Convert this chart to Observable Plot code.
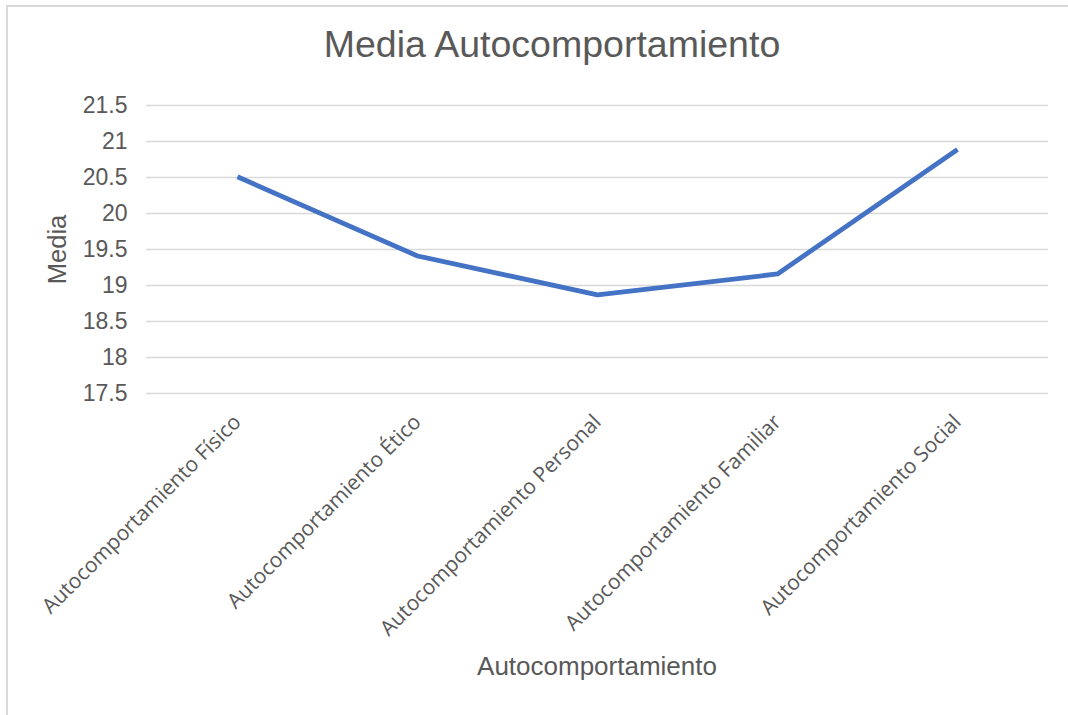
<!DOCTYPE html>
<html>
<head>
<meta charset="utf-8">
<script src="https://cdn.jsdelivr.net/npm/d3@7"></script>
<script src="https://cdn.jsdelivr.net/npm/@observablehq/plot@0.6"></script>
<style>
  html, body { margin: 0; padding: 0; background: #fff; }
  #wrap { position: relative; width: 1068px; height: 715px; overflow: hidden; font-family: "Liberation Sans", Arial, sans-serif; }
  #frame { position: absolute; left: 6px; top: 5px; width: 1100px; height: 800px; border-left: 2px solid #d9d9d9; border-top: 2px solid #d9d9d9; }
  #title { position: absolute; left: 18px; width: 1068px; top: 23px; text-align: center; font-size: 37.5px; color: #595959; }
  #xtitle { position: absolute; left: 146px; width: 902px; top: 651px; text-align: center; font-size: 26px; color: #595959; }
  #chart { position: absolute; left: 0; top: 0; }
</style>
</head>
<body>
<div id="wrap">
  <div id="frame"></div>
  <div id="chart"></div>
  <div id="title">Media Autocomportamiento</div>
  <div id="xtitle">Autocomportamiento</div>
</div>
<script>
const categories = [
  "Autocomportamiento Físico",
  "Autocomportamiento Ético",
  "Autocomportamiento Personal",
  "Autocomportamiento Familiar",
  "Autocomportamiento Social"
];
const media = [20.51, 19.41, 18.87, 19.16, 20.89];
const yTicks = [17.5, 18, 18.5, 19, 19.5, 20, 20.5, 21, 21.5];
const yLabel = "Media";

const data = categories.map((c, i) => ({categoria: c, media: media[i]}));

const chart = Plot.plot({
  width: 1068,
  height: 715,
  marginLeft: 146,
  marginRight: 20,
  marginTop: 105,
  marginBottom: 322,
  style: {background: "transparent", overflow: "visible"},
  x: {type: "point", domain: categories, padding: 0.5},
  y: {domain: [17.5, 21.5]},
  marks: [
    Plot.gridY(yTicks, {stroke: "#d9d9d9", strokeOpacity: 1, strokeWidth: 1.5}),
    Plot.axisY(yTicks, {
      tickSize: 0, tickPadding: 19, label: null,
      fontSize: 23, fill: "#595959",
      fontFamily: "Liberation Sans, Arial, sans-serif",
      tickFormat: d => String(d)
    }),
    Plot.axisX({
      tickSize: 0, tickPadding: 25, tickRotate: -45, label: null,
      fontSize: 21, fill: "#595959",
      fontFamily: "Open Sans, sans-serif"
    }),
    Plot.text([yLabel], {
      frameAnchor: "left", dx: -89, rotate: -90, textAnchor: "middle",
      fontSize: 25.5, fill: "#595959",
      fontFamily: "Liberation Sans, Arial, sans-serif"
    }),
    Plot.line(data, {x: "categoria", y: "media", stroke: "#4472C4", strokeWidth: 4.8, strokeLinejoin: "round", strokeLinecap: "butt"})
  ]
});
document.getElementById("chart").appendChild(chart);
</script>
</body>
</html>
